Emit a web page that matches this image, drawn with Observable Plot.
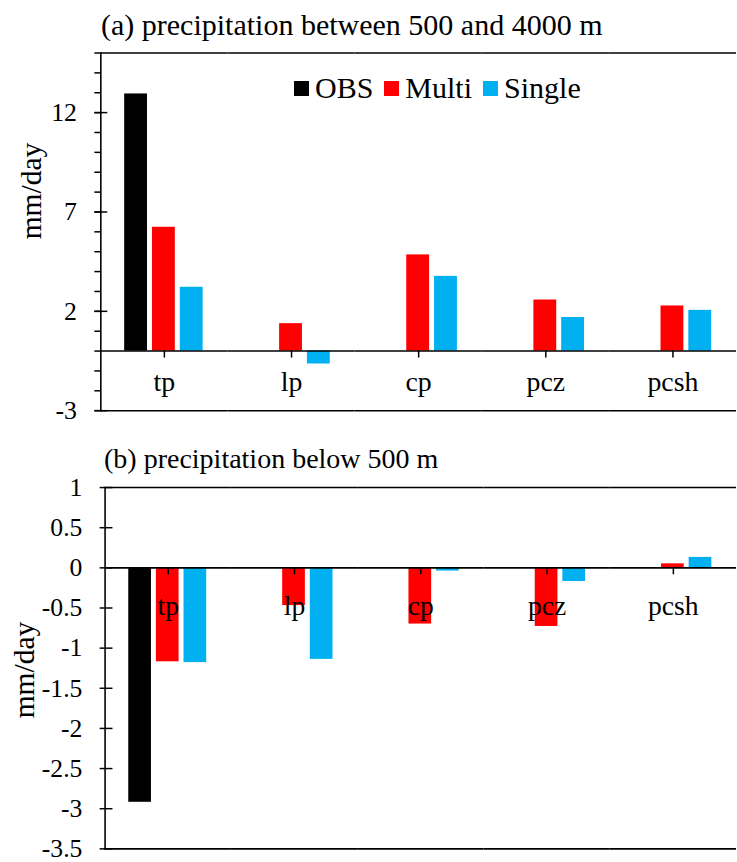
<!DOCTYPE html>
<html><head><meta charset="utf-8">
<script src="https://cdn.jsdelivr.net/npm/d3@7"></script>
<script src="https://cdn.jsdelivr.net/npm/@observablehq/plot@0.6"></script>
<style>
html,body{margin:0;padding:0;background:#fff;overflow:hidden;}
#wrap{position:relative;width:737px;height:862px;overflow:hidden;color:#000;font-family:'Liberation Serif',serif;}
</style></head>
<body><div id="wrap"></div>
<script>
// ---- data ----
const categories = ["tp", "lp", "cp", "pcz", "pcsh"];
const seriesNames = ["OBS", "Multi", "Single"];
const seriesColors = ["#000000", "#ff0000", "#00b0f0"];

// (a) precipitation between 500 and 4000 m  (mm/day)
const aOBS    = [12.94, null, null, null, null];
const aMulti  = [6.23, 1.38, 4.84, 2.57, 2.27];
const aSingle = [3.21, -0.65, 3.76, 1.69, 2.05];
const aYDomain = [-3, 15];
const aMajorTicks = [-3, 2, 7, 12];
const aMinorTicks = [-3, -2, -1, 0, 1, 2, 3, 4, 5, 6, 7, 8, 9, 10, 11, 12, 13, 14, 15];

// (b) precipitation below 500 m  (mm/day)
const bOBS    = [-2.92, null, null, null, null];
const bMulti  = [-1.17, -0.47, -0.70, -0.73, 0.05];
const bSingle = [-1.18, -1.14, -0.04, -0.17, 0.13];
const bYDomain = [-3.5, 1];
const bMajorTicks = [-3.5, -3, -2.5, -2, -1.5, -1, -0.5, 0, 0.5, 1];
const bMinorTicks = [];

const titleA = "(a) precipitation between 500 and 4000 m";
const titleB = "(b) precipitation below 500 m";
const yLabel = "mm/day";

// ---- drawing ----
const wrap = document.getElementById("wrap");
const FONT = "Liberation Serif";
const tickShape = {draw(ctx, l) { ctx.moveTo(0, 0); ctx.lineTo(0, l); }};

function makePanel(cfg) {
  const rows = [];
  categories.forEach((cat, i) => cfg.values.forEach((arr, j) => {
    if (arr[i] != null) rows.push({cat, series: seriesNames[j], value: arr[i]});
  }));
  return Plot.plot({
    width: cfg.width, height: cfg.height,
    marginLeft: cfg.marginLeft, marginRight: 0, marginTop: cfg.marginTop, marginBottom: cfg.marginBottom,
    style: {background: "transparent", overflow: "visible", color: "#000", fontFamily: FONT},
    fx: {domain: categories, padding: 0, axis: null, label: null},
    x: {domain: seriesNames, paddingInner: cfg.paddingInner, paddingOuter: cfg.paddingOuter, axis: null, label: null},
    y: {domain: cfg.yDomain, axis: null, label: null},
    color: {domain: seriesNames, range: seriesColors},
    marks: [
      Plot.barY(rows, {fx: "cat", x: "series", y: "value", fill: "series"}),
      Plot.ruleY([cfg.yDomain[0], 0, cfg.yDomain[1]], {stroke: "#000", strokeWidth: 1.6}),
      Plot.frame({anchor: "left", facetAnchor: "left", stroke: "#000", strokeWidth: 1.6}),
      Plot.axisY({ticks: cfg.minorTicks, tickSize: cfg.outerTick, text: null, label: null, strokeWidth: 1.5}),
      Plot.axisY({ticks: cfg.majorTicks, tickSize: cfg.outerTick, text: null, label: null, strokeWidth: 1.5}),
      Plot.axisY({ticks: cfg.majorTicks, tickSize: -cfg.innerTick, text: null, label: null, strokeWidth: 1.5}),
      Plot.text(cfg.majorTicks, {y: d => d, text: d => String(d), frameAnchor: "left", facetAnchor: "left",
        dx: -cfg.labelGap, textAnchor: "end", fontFamily: FONT, fontSize: 26, fill: "#000"}),
      Plot.vector(categories, {fx: d => d, y: 0, length: 6, anchor: "start", shape: tickShape, stroke: "#000", strokeWidth: 1.5}),
      Plot.text(categories, {fx: d => d, y: 0, dy: cfg.labelDy, text: d => d, fontSize: 28, fontFamily: FONT, fill: "#000"})
    ]
  });
}

const panelA = makePanel({
  values: [aOBS, aMulti, aSingle], yDomain: aYDomain, majorTicks: aMajorTicks, minorTicks: aMinorTicks,
  width: 742, height: 400, marginLeft: 99, marginTop: 12.6, marginBottom: 27.3,
  paddingInner: 0.172, paddingOuter: 0.803, outerTick: 6, innerTick: 7, labelGap: 24, labelDy: 31
});
panelA.setAttribute("style", "position:absolute;left:0;top:40px;background:transparent;overflow:visible;");
wrap.appendChild(panelA);

const panelB = makePanel({
  values: [bOBS, bMulti, bSingle], yDomain: bYDomain, majorTicks: bMajorTicks, minorTicks: bMinorTicks,
  width: 747, height: 392, marginLeft: 104, marginTop: 17.3, marginBottom: 8.5,
  paddingInner: 0.175, paddingOuter: 0.844, outerTick: 5, innerTick: 8, labelGap: 23, labelDy: 39
});
panelB.setAttribute("style", "position:absolute;left:0;top:470px;background:transparent;overflow:visible;");
wrap.appendChild(panelB);

function addDiv(text, css) {
  const d = document.createElement("div");
  d.textContent = text;
  d.setAttribute("style", "position:absolute;white-space:nowrap;color:#000;font-family:'Liberation Serif',serif;" + css);
  wrap.appendChild(d);
  return d;
}
addDiv(titleA, "left:101px;top:10px;font-size:30px;line-height:30px;");
addDiv(titleB, "left:104px;top:445px;font-size:28px;line-height:28px;");
addDiv(yLabel, "left:31px;top:191px;font-size:29.5px;line-height:30px;transform:translate(-50%,-50%) rotate(-90deg);");
addDiv(yLabel, "left:24px;top:670px;font-size:29.5px;line-height:30px;transform:translate(-50%,-50%) rotate(-90deg);");

const legend = addDiv("", "left:294px;top:73px;display:flex;align-items:center;font-size:30px;line-height:30px;");
seriesNames.forEach((s, i) => {
  const it = document.createElement("span");
  it.setAttribute("style", "display:flex;align-items:center;margin-right:11px;");
  const sw = document.createElement("span");
  sw.setAttribute("style", "display:inline-block;width:15px;height:15px;margin-right:6px;background:" + seriesColors[i] + ";");
  const tx = document.createElement("span");
  tx.textContent = s;
  it.appendChild(sw); it.appendChild(tx); legend.appendChild(it);
});
</script></body></html>
